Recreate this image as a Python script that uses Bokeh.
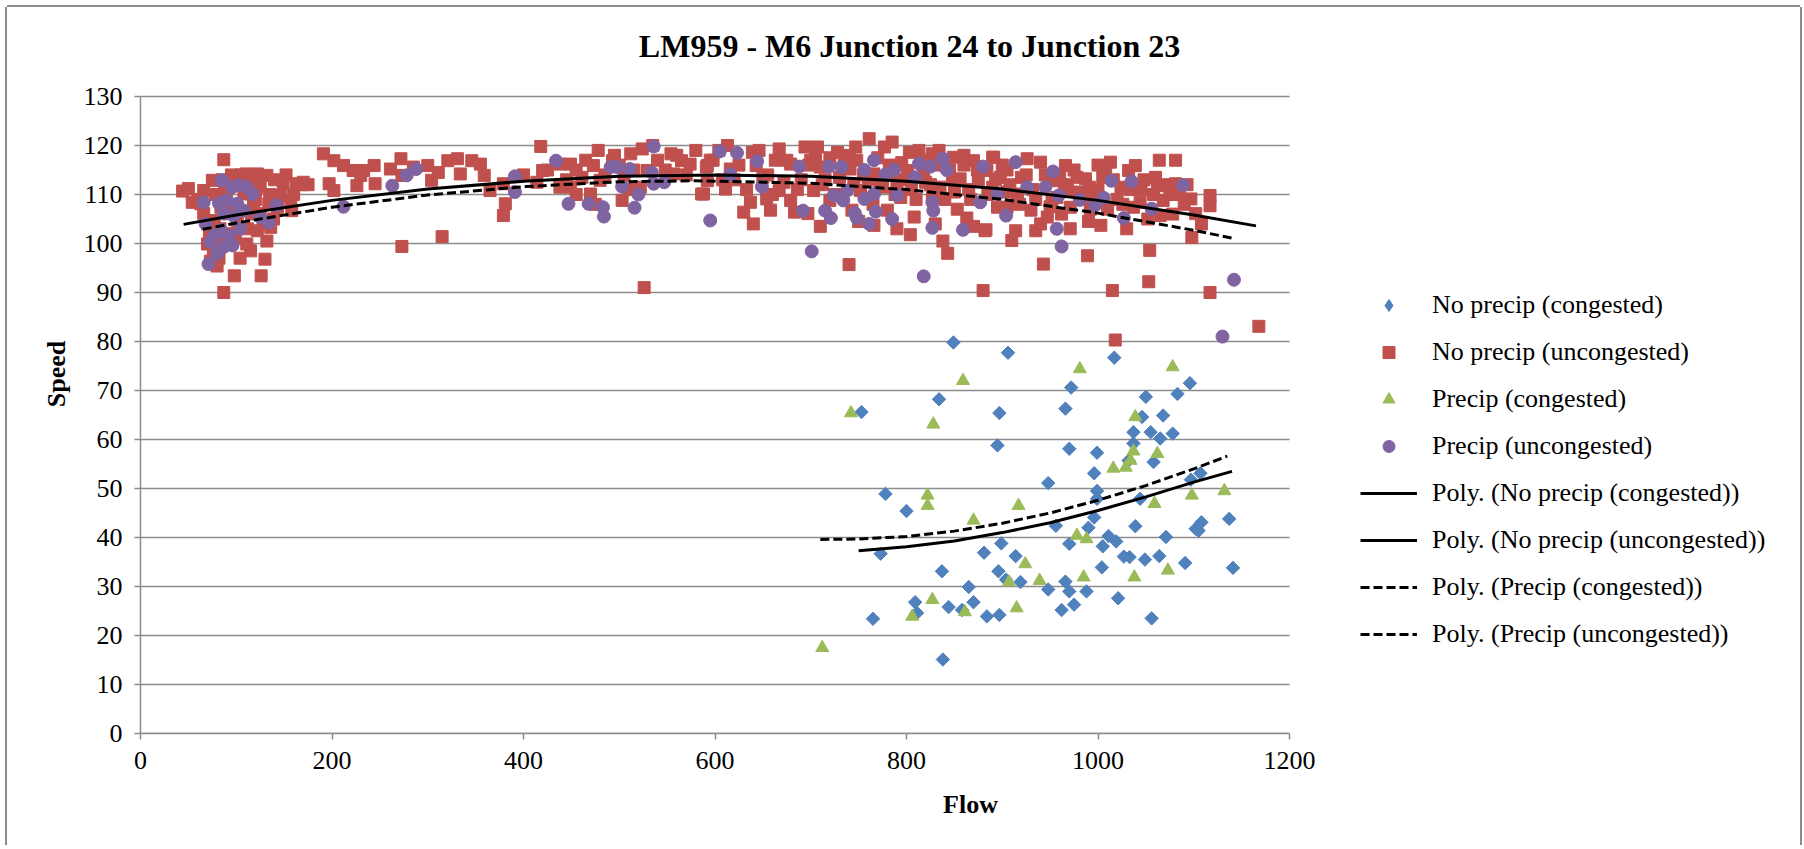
import numpy as np
from bokeh.plotting import figure
from bokeh.models import Range1d, FixedTicker, Legend, LegendItem, Label
from bokeh.embed import file_html
from bokeh.resources import INLINE

# ---------------- data ----------------
title_text = "LM959 - M6 Junction 24 to Junction 23"
x_label = "Flow"
y_label = "Speed"
x_ticks = [0, 200, 400, 600, 800, 1000, 1200]
y_ticks = [0, 10, 20, 30, 40, 50, 60, 70, 80, 90, 100, 110, 120, 130]

series_names = ["No precip (congested)", "No precip (uncongested)",
                "Precip (congested)", "Precip (uncongested)"]
trend_names = ["Poly. (No precip (congested))", "Poly. (No precip (uncongested))",
               "Poly. (Precip (congested))", "Poly. (Precip (uncongested))"]

# No precip (congested) - blue diamonds
np_cong_x = [753, 849, 906, 1017, 834, 897, 895, 972, 966, 970, 999, 1050, 1046, 1068,
             1083, 1096, 1037, 1055, 1065, 1078, 1037, 1032, 1058, 996, 948, 778, 999,
             1097, 1107, 800, 999, 1044, 773, 837, 809, 811, 765, 838, 844, 865, 858,
             870, 881, 899, 914, 896, 904, 919, 884, 897, 948, 956, 970, 966, 970, 962,
             975, 988, 990, 996, 1005, 1004, 1011, 1019, 1021, 1027, 1033, 1039, 1049,
             1064, 1071, 1056, 1091, 1102, 1105, 1108, 1137, 1141]
np_cong_y = [65.6, 79.8, 77.7, 76.7, 68.2, 65.4, 58.8, 70.6, 66.3, 58.1, 57.3, 68.7, 64.6,
             64.9, 69.3, 71.5, 61.5, 61.5, 60.2, 61.2, 59.2, 55.7, 55.4, 53.1, 51.1, 48.9,
             49.5, 51.8, 53.1, 45.4, 47.9, 47.9, 36.7, 33.1, 26.8, 24.6, 23.4, 15.1, 25.8,
             29.9, 25.2, 26.8, 36.9, 38.8, 36.2, 33.1, 31.4, 30.9, 23.9, 24.2, 29.4, 42.4,
             38.7, 31.0, 29.0, 25.2, 26.3, 29.0, 42.0, 44.1, 38.2, 33.9, 40.3, 39.2, 27.6,
             36.1, 36.0, 42.3, 35.5, 36.2, 40.1, 23.5, 34.8, 41.8, 41.4, 43.1, 43.8, 33.8]

# No precip (uncongested) - red squares
np_unc_x = [87, 50, 44, 54, 87, 98, 126, 130, 132, 115, 76, 73, 80, 136, 143, 157, 158, 163,
            170, 149, 132, 122, 110, 101, 75, 66, 63, 66, 108, 118, 101, 122, 94, 84, 70,
            111, 139, 146, 122, 90, 84, 134, 94, 77, 125,
            191, 202, 212, 222, 230, 233, 226, 197, 202,
            244, 245, 261, 272, 273, 285, 300, 304, 311, 321, 331, 334, 346, 355, 359,
            273, 315, 365, 379, 381, 379, 418, 420, 414, 438, 449, 449, 461, 470, 473, 478,
            493, 505, 503, 512, 524, 535, 526, 554, 565, 580, 574, 591, 586, 529, 522, 480,
            438, 557,
            592, 613, 604, 616, 611, 588, 637, 630, 639, 643, 667, 663, 654, 667, 679, 679,
            683, 694, 707, 697, 710, 703, 728, 740, 747, 761, 777, 785, 741, 752, 743, 766,
            780, 794, 803, 813, 801, 804, 808, 827, 834, 838, 843, 849, 863, 882, 880, 891,
            895, 856, 827, 870, 592, 658, 720, 766,
            890, 884, 883, 910, 914, 926, 940, 935, 943, 953, 966, 971, 978, 987, 989, 1003,
            1013, 1015, 1032, 1039, 1024, 1044, 1054, 1053, 1064, 1062, 1065, 1081, 1081,
            1097, 1098, 1102, 1117, 1117, 1117, 898, 916, 905, 930, 947, 957, 971, 991, 1005,
            1037, 1068, 1018, 1168,
            620, 650, 672, 690, 712, 730, 745, 760, 775, 790, 805, 820, 835, 850, 865, 875,
            890, 905, 920, 935, 950, 965, 980, 995, 1010, 1020, 1045, 1060, 1075, 1090,
            700, 720, 740, 770, 795, 815, 845, 860, 905, 960, 1000,
            640, 710, 750, 790, 830, 870, 940, 990, 1030,
            598, 608, 625, 633, 646, 655, 660, 675, 686, 698, 705, 715, 725, 735, 748, 755,
            765, 772, 782, 788, 798, 810, 818, 825, 832, 840, 848, 853, 860, 867, 874, 885,
            893, 900, 908, 918, 925, 932, 945, 952, 962, 968, 975, 983, 992, 1000, 1008,
            1016, 1026, 1034, 1048, 1052, 1058, 1070, 1078, 1085, 1093, 1108,
            60, 70, 78, 83, 88, 93, 99, 104, 112, 116, 120, 128, 135, 140, 152, 160, 168,
            175, 85, 95, 105, 115, 125, 72, 82,
            400, 425, 445, 455, 465, 485, 495, 500, 515, 540, 548, 560, 570, 595, 455, 475,
            510]
np_unc_y = [117.1, 111.2, 110.7, 108.4, 90.0, 93.4, 93.4, 96.8, 100.5, 98.5, 98.5, 96.4,
            95.4, 103.3, 107.4, 108.8, 106.7, 112.2, 112.5, 112.2, 113.9, 114.2, 114.2,
            112.9, 112.9, 110.8, 108.1, 106.1, 110.1, 108.1, 104.7, 102.6, 102.0, 100.6,
            99.9, 99.9, 105.0, 109.8, 111.5, 110.8, 107.4, 108.1, 106.1, 104.7, 106.1,
            118.3, 116.9, 115.9, 114.9, 113.9, 114.9, 111.8, 112.2, 110.8,
            115.9, 112.2, 115.2, 117.3, 113.9, 115.6, 115.9, 112.9, 114.5, 116.9, 117.3,
            114.2, 116.9, 116.2, 113.9, 99.4, 101.4, 110.8, 112.2, 108.1, 105.7, 119.8,
            114.9, 112.5, 116.2, 116.2, 111.5, 113.5, 110.1, 115.9, 119.0, 116.9, 113.9,
            108.8, 118.3, 119.3, 120.0, 91.0, 118.3, 116.9, 119.0, 116.2, 115.6, 110.1,
            114.9, 111.5, 112.9, 111.5, 114.2,
            115.9, 120.0, 119.0, 115.2, 111.1, 110.1, 108.4, 106.4, 118.6, 115.9, 119.3,
            117.0, 109.1, 110.8, 116.2, 108.8, 106.4, 119.7, 119.7, 106.1, 115.6, 110.8,
            118.6, 95.7, 119.7, 121.4, 119.7, 120.7, 115.2, 110.8, 106.8, 103.7, 106.8,
            109.4, 118.6, 119.0, 114.9, 101.8, 105.4, 118.3, 119.0, 100.5, 98.0, 117.6,
            105.2, 102.6, 90.4, 117.6, 107.4, 113.2, 110.1, 116.9, 112.8, 106.8, 108.8,
            114.2,
            117.6, 114.9, 102.8, 100.6, 102.6, 117.3, 116.6, 102.6, 95.8, 112.8, 115.9,
            103.0, 113.5, 113.2, 97.5, 103.7, 116.6, 90.4, 114.9, 115.9, 111.5, 108.4, 98.6,
            92.2, 117.0, 111.8, 105.7, 117.0, 112.2, 109.1, 101.2, 106.1, 109.8, 107.7,
            90.0, 113.5, 110.1, 107.4, 106.8, 105.4, 109.4, 107.4, 111.5, 113.5, 107.4,
            108.8, 80.3, 83.1,
            113.0, 113.5, 112.5, 113.0, 112.0, 113.5, 112.0, 113.0, 111.5, 112.5, 111.0,
            112.5, 111.5, 110.5, 111.0, 113.0, 111.5, 110.5, 113.5, 109.0, 107.5, 112.0,
            110.5, 109.5, 107.0, 109.0, 111.0, 113.5, 110.0, 108.0,
            117.0, 117.5, 118.0, 117.5, 116.5, 117.0, 115.0, 116.0, 115.0, 114.0, 116.0,
            104.0, 103.5, 104.5, 103.0, 104.0, 103.5, 104.0, 104.5, 103.0,
            117.0, 113.0, 116.0, 111.0, 119.0, 114.0, 110.0, 117.0, 111.0, 116.0, 118.0,
            113.0, 110.0, 116.0, 117.0, 114.0, 108.0, 112.0, 116.0, 110.0, 113.0, 109.0,
            115.0, 112.0, 116.0, 109.0, 113.0, 107.0, 118.0, 109.0, 115.0, 110.0, 113.0,
            116.0, 112.0, 108.0, 114.0, 111.0, 114.0, 109.0, 106.0, 111.0, 115.0, 109.0,
            107.0, 111.0, 115.0, 113.0, 108.0, 111.0, 113.0, 105.0, 110.0, 112.0, 106.0,
            110.0, 112.0, 104.0,
            109.0, 104.0, 110.0, 103.0, 111.0, 108.0, 101.0, 97.0, 103.0, 106.0, 109.0,
            104.0, 110.0, 113.0, 114.0, 110.0, 112.0, 112.0, 113.0, 114.0, 114.0, 113.0,
            112.0, 102.0, 97.0,
            114.0, 115.0, 113.0, 115.0, 117.0, 114.0, 118.0, 116.0, 115.0, 117.0, 115.0,
            118.0, 114.0, 117.0, 110.0, 108.0, 111.0]

# Precip (congested) - green triangles
p_cong_x = [742, 828, 859, 981, 1078, 1039, 1037, 1062, 1034, 1016, 1029, 822, 1132, 1098,
            822, 917, 870, 1059, 978, 988, 924, 907, 939, 985, 1038, 1073, 827, 806, 861,
            915, 712]
p_cong_y = [65.4, 63.1, 72.0, 74.4, 74.8, 64.6, 57.6, 57.1, 55.7, 54.1, 54.3, 48.6, 49.5,
            48.6, 46.5, 46.5, 43.5, 46.9, 40.4, 39.7, 34.6, 30.9, 31.2, 31.9, 31.9, 33.3,
            27.3, 23.9, 24.8, 25.6, 17.5]

# Precip (uncongested) - purple circles
p_unc_x = [85, 96, 103, 111, 117, 66, 82, 90, 101, 108, 87, 97, 68, 104, 84, 77, 92, 73, 96,
           87, 80, 71, 125, 134, 142, 212,
           263, 278, 288, 391, 391, 434, 447, 468, 483, 484, 491, 498, 511, 503, 520, 516,
           536, 534, 536, 547, 595,
           605, 623, 644, 616, 649, 688, 692, 701, 719, 732, 715, 721, 724, 734, 746, 748,
           756, 756, 761, 766, 768, 778, 787, 790, 785, 813, 809, 818, 825, 827, 828, 827,
           838, 842, 859, 880, 877, 895, 738, 766,
           914, 953, 926, 945, 904, 957, 962, 959, 981, 997, 1006, 1014, 1027, 1035, 1056,
           1089, 1130, 1142]
p_unc_y = [112.9, 111.5, 111.9, 111.5, 110.1, 108.4, 108.2, 108.8, 108.1, 106.7, 106.1,
           105.7, 104.0, 103.0, 102.7, 101.6, 101.6, 100.3, 99.6, 99.3, 97.9, 95.8, 105.4,
           104.3, 107.8, 107.5,
           111.8, 113.9, 115.2, 113.7, 110.5, 116.9, 108.1, 108.1, 107.4, 105.5, 115.6,
           115.6, 115.2, 111.6, 110.0, 107.3, 119.8, 114.5, 112.2, 112.5, 104.7,
           118.8, 118.5, 116.8, 114.1, 111.6, 115.7, 106.7, 98.4, 115.7, 115.6, 106.7,
           105.2, 109.8, 108.8, 106.2, 105.2, 115.0, 109.1, 104.0, 117.0, 106.5, 114.1,
           115.0, 109.8, 105.0, 116.3, 113.5, 93.3, 115.7, 108.4, 106.7, 103.2, 117.3,
           115.0, 102.8, 115.7, 108.4, 110.1, 110.8, 110.1,
           116.6, 114.7, 111.5, 111.5, 105.7, 103.0, 99.4, 109.8, 108.9, 107.8, 109.3,
           112.8, 105.2, 112.7, 107.1, 111.9, 81.0, 92.6]

# Polynomial trend lines
tr_np_cong_x = [750, 800, 850, 900, 950, 1000, 1050, 1100, 1140]
tr_np_cong_y = [37.3, 38.1, 39.3, 41.0, 43.0, 45.5, 48.3, 51.3, 53.5]
tr_np_unc_x = [45, 100, 200, 300, 400, 500, 600, 700, 800, 900, 1000, 1100, 1165]
tr_np_unc_y = [103.9, 105.8, 108.8, 111.1, 112.7, 113.7, 114.0, 113.7, 112.7, 111.1,
               108.8, 105.8, 103.6]
tr_p_cong_x = [710, 750, 800, 850, 900, 950, 1000, 1050, 1100, 1135]
tr_p_cong_y = [39.6, 39.7, 40.2, 41.3, 42.9, 45.0, 47.6, 50.6, 54.0, 56.6]
tr_p_unc_x = [65, 100, 200, 300, 400, 500, 580, 700, 800, 900, 1000, 1100, 1140]
tr_p_unc_y = [102.9, 104.2, 107.4, 109.9, 111.6, 112.6, 112.8, 112.3, 111.0, 109.0,
              106.2, 102.7, 101.1]

# ---------------- layout / styling ----------------
FONT = "Liberation Serif"
GRID = "#8c8c8c"
BLUE = "#4F81BD"
RED = "#C0504D"
GREEN = "#9BBB59"
PURPLE = "#8064A2"

X_MAX = x_ticks[-1]
Y_MAX = y_ticks[-1]
AXIS_W = 1149          # pixel width of the 0..1200 axis
AXIS_H = 637           # pixel height of the 0..130 axis
FRAME_W = 1660         # frame also holds the legend area on the right
FRAME_H = 719          # ... and the title area on top

p = figure(frame_width=FRAME_W, frame_height=FRAME_H,
           output_backend="svg", toolbar_location=None,
           x_range=Range1d(0, X_MAX * FRAME_W / AXIS_W),
           y_range=Range1d(0, Y_MAX * FRAME_H / AXIS_H),
           min_border_left=133, min_border_right=0, min_border_top=7,
           min_border_bottom=112)
p.outline_line_color = None
p.background_fill_color = "white"
p.border_fill_color = "white"
p.styles = {"margin": "7px 0 0 7px",
            "box-shadow": "-2px 0 0 0 #8c8c8c, 2px 0 0 0 #8c8c8c, 0 -2px 0 0 #8c8c8c"}

p.xgrid.visible = False
p.ygrid.visible = False
# horizontal gridlines over the 0..1200 span only
p.segment(x0=[0] * len(y_ticks), y0=y_ticks, x1=[X_MAX] * len(y_ticks), y1=y_ticks,
          line_color=GRID, line_width=1.5)

p.xaxis.ticker = FixedTicker(ticks=x_ticks)
p.yaxis.ticker = FixedTicker(ticks=y_ticks)
p.xaxis.bounds = (0, X_MAX)
p.yaxis.bounds = (0, Y_MAX)
for ax in (p.xaxis[0], p.yaxis[0]):
    ax.axis_line_color = GRID
    ax.axis_line_width = 1.5
    ax.major_tick_line_color = GRID
    ax.major_tick_line_width = 1.5
    ax.major_tick_out = 6
    ax.major_tick_in = 0
    ax.minor_tick_line_color = None
    ax.major_label_text_font = FONT
    ax.major_label_text_font_size = "26px"
    ax.major_label_text_color = "black"
    ax.major_label_standoff = 12
    ax.axis_label_text_font = FONT
    ax.axis_label_text_font_size = "26px"
    ax.axis_label_text_font_style = "bold"
    ax.axis_label_text_color = "black"
p.xaxis.axis_label = x_label
p.yaxis.axis_label = y_label
p.xaxis.axis_label_standoff = 18
p.yaxis.axis_label_standoff = 10

r_blue = p.scatter(np_cong_x, np_cong_y, marker="square", angle=np.pi / 4, size=9.5,
                   fill_color=BLUE, line_color=BLUE)
r_red = p.scatter(np_unc_x, np_unc_y, marker="square", size=12,
                  fill_color=RED, line_color=RED)
r_green = p.scatter(p_cong_x, p_cong_y, marker="triangle", size=13,
                    fill_color=GREEN, line_color=GREEN)
r_purple = p.scatter(p_unc_x, p_unc_y, marker="circle", size=13,
                     fill_color=PURPLE, line_color=PURPLE)
# legend swatch for the diamond series (legend glyphs ignore marker angle);
# a single non-finite point so nothing is drawn in the plot area
r_blue_key = p.scatter(x=[float("nan")], y=[float("nan")], marker="diamond", size=19,
                       fill_color=BLUE, line_color=BLUE)

l1 = p.line(tr_np_cong_x, tr_np_cong_y, line_color="black", line_width=3)
l2 = p.line(tr_np_unc_x, tr_np_unc_y, line_color="black", line_width=3)
l3 = p.line(tr_p_cong_x, tr_p_cong_y, line_color="black", line_width=3, line_dash="9 4")
l4 = p.line(tr_p_unc_x, tr_p_unc_y, line_color="black", line_width=3, line_dash="9 4")

legend = Legend(items=[
    LegendItem(label=series_names[0], renderers=[r_blue_key]),
    LegendItem(label=series_names[1], renderers=[r_red]),
    LegendItem(label=series_names[2], renderers=[r_green]),
    LegendItem(label=series_names[3], renderers=[r_purple]),
    LegendItem(label=trend_names[0], renderers=[l1]),
    LegendItem(label=trend_names[1], renderers=[l2]),
    LegendItem(label=trend_names[2], renderers=[l3]),
    LegendItem(label=trend_names[3], renderers=[l4]),
], location=(1220, 84))
legend.label_text_font = FONT
legend.label_text_font_size = "26px"
legend.label_text_color = "black"
legend.glyph_width = 57
legend.glyph_height = 30
legend.label_height = 30
legend.label_standoff = 15
legend.spacing = 17
legend.padding = 0
legend.margin = 0
legend.border_line_color = None
legend.background_fill_alpha = 0
p.add_layout(legend)

# chart title, centred over the whole chart area (screen px from frame bottom-left)
title = Label(x=769, y=688, x_units="screen", y_units="screen", text=title_text,
              text_align="center", text_baseline="alphabetic", text_font=FONT,
              text_font_size="32px", text_font_style="bold", text_color="black")
p.add_layout(title)

open("out.html", "w").write(file_html(p, INLINE))
